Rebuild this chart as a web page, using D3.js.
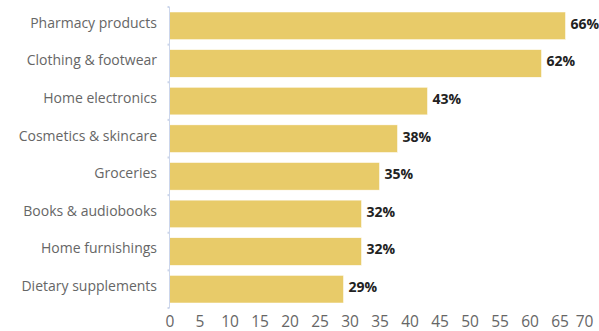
<!DOCTYPE html>
<html>
<head>
<meta charset="utf-8">
<script src="https://cdn.jsdelivr.net/npm/d3@7"></script>
<style>
  html, body { margin: 0; padding: 0; background: #fff; }
  svg { display: block; }
</style>
</head>
<body>
<div id="chart"></div>
<script>
const categories = ["Pharmacy products", "Clothing & footwear", "Home electronics", "Cosmetics & skincare", "Groceries", "Books & audiobooks", "Home furnishings", "Dietary supplements"];
const values = [66, 62, 43, 38, 35, 32, 32, 29];
const xTicks = [0, 5, 10, 15, 20, 25, 30, 35, 40, 45, 50, 55, 60, 65, 70];

const W = 599, H = 331;
const svg = d3.select("#chart").append("svg").attr("width", W).attr("height", H);

const x = d3.scaleLinear().domain([0, 70]).range([169.5, 589.5]);
const y = d3.scaleBand().domain(categories).range([7, 308]).paddingInner(0.266).paddingOuter(0.133);

const barColor = "#e8cb69";
const axisColor = "#ccd6eb";

// bars
svg.append("g").selectAll("rect").data(values).join("rect")
  .attr("x", x(0))
  .attr("y", (d, i) => y(categories[i]))
  .attr("width", d => x(d) - x(0))
  .attr("height", y.bandwidth())
  .attr("fill", barColor)
  .attr("stroke", "#fff")
  .attr("stroke-width", 0.5);

// category axis line
const step = y.step();
const y0 = y.range()[0], y1 = y.range()[1];
svg.append("line")
  .attr("x1", x(0)).attr("x2", x(0))
  .attr("y1", y0).attr("y2", y1)
  .attr("stroke", axisColor).attr("stroke-width", 1);
// category boundary tick marks
svg.append("g").selectAll("line").data(d3.range(categories.length + 1)).join("line")
  .attr("x1", x(0) - 2).attr("x2", x(0))
  .attr("y1", i => y0 + i * step).attr("y2", i => y0 + i * step)
  .attr("stroke", axisColor).attr("stroke-width", 2);

// category labels
svg.append("g").selectAll("text").data(categories).join("text")
  .attr("x", 157)
  .attr("y", d => y(d) + y.bandwidth() / 2 - 3)
  .attr("dy", "0.35em")
  .attr("text-anchor", "end")
  .attr("font-family", "'Open Sans', sans-serif")
  .attr("font-size", 14)
  .attr("fill", "#666666")
  .text(d => d);

// value labels
svg.append("g").selectAll("text").data(values).join("text")
  .attr("x", d => x(d) + 5)
  .attr("y", (d, i) => y(categories[i]) + y.bandwidth() / 2 - 2)
  .attr("dy", "0.35em")
  .attr("font-family", "'Open Sans', sans-serif")
  .attr("font-weight", "bold")
  .attr("font-size", 14)
  .attr("fill", "#222222")
  .text(d => d + "%");

// x axis (labels only)
const xAxis = d3.axisBottom(x).tickValues(xTicks).tickSize(0).tickPadding(0).tickFormat(d3.format("d"));
const gx = svg.append("g").attr("transform", `translate(0, ${y1 + 19})`).call(xAxis);
gx.select(".domain").remove();
gx.selectAll("text")
  .attr("font-family", "'Open Sans', sans-serif")
  .attr("font-size", 15.5)
  .attr("fill", "#666666")
  .attr("dy", "0");
// keep the last label inside the chart
gx.selectAll(".tick").each(function(d) {
  const t = d3.select(this).select("text");
  const bb = this.getBBox();
  const tx = x(d);
  const right = tx + bb.width / 2;
  if (right > W - 6) t.attr("x", (W - 6) - right);
});
</script>
</body>
</html>
